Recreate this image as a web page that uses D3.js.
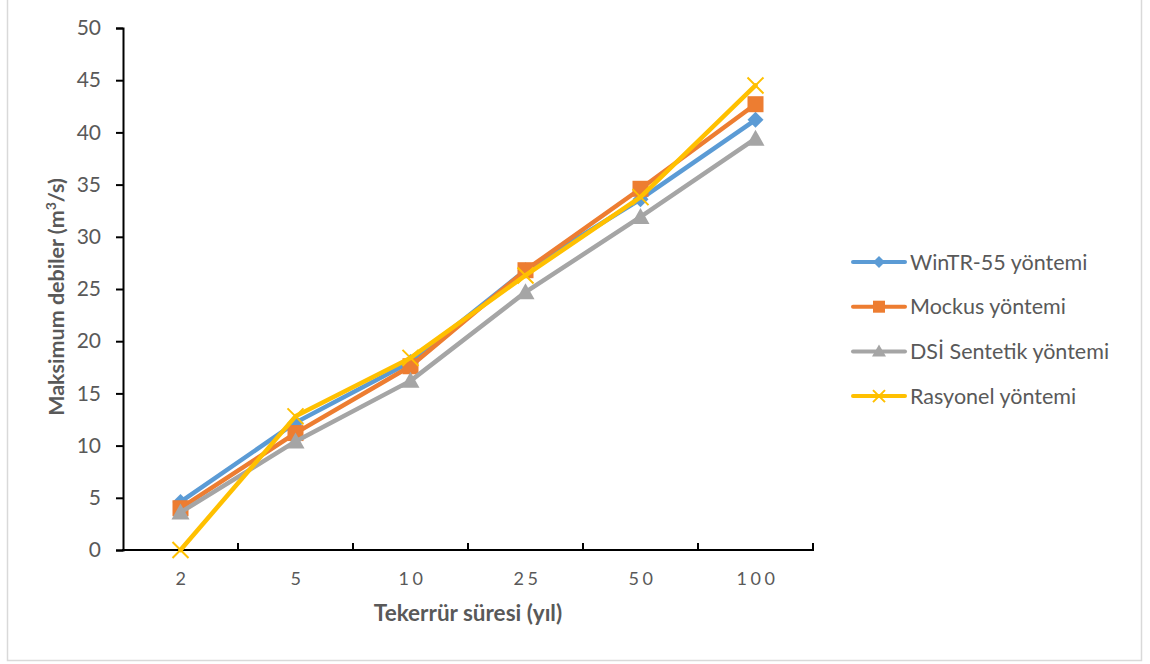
<!DOCTYPE html>
<html>
<head>
<meta charset="utf-8">
<script src="https://cdn.jsdelivr.net/npm/d3@7"></script>
<style>
  body { margin: 0; background: #fff; }
  svg text { font-family: Lato, "Open Sans", sans-serif; fill: #595959; }
</style>
</head>
<body>
<div id="chart"></div>
<script>
// Return periods (years)
const periods = ["2", "5", "10", "25", "50", "100"];

// Peak discharge values (m3/s) per method
const winTR55 = [4.6, 12.2, 18.0, 26.8, 33.6, 41.2];
const mockus = [4.0, 11.2, 17.6, 26.8, 34.6, 42.7];
const dsiSentetik = [3.6, 10.4, 16.2, 24.7, 31.9, 39.4];
const rasyonel = [0.0, 12.8, 18.4, 26.3, 33.8, 44.5];

const yTicks = [0, 5, 10, 15, 20, 25, 30, 35, 40, 45, 50];

const seriesNames = ["WinTR-55 yöntemi", "Mockus yöntemi", "DSİ Sentetik yöntemi", "Rasyonel yöntemi"];
const seriesValues = [winTR55, mockus, dsiSentetik, rasyonel];
const seriesColors = ["#5B9BD5", "#ED7D31", "#A5A5A5", "#FFC000"];
const seriesMarkers = ["diamond", "square", "triangle", "cross"];

// Dimensions
const width = 1150, height = 664;
const plot = { left: 123, right: 813, top: 28, bottom: 550 };

const svg = d3.select("#chart").append("svg")
    .attr("width", width)
    .attr("height", height);

// Chart frame
svg.append("rect")
    .attr("x", 7.5).attr("y", -1)
    .attr("width", 1134).attr("height", 661.5)
    .attr("fill", "#fff")
    .attr("stroke", "#d9d9d9")
    .attr("stroke-width", 1.5);

// Scales
const x = d3.scaleBand().domain(periods).range([plot.left, plot.right]);
const y = d3.scaleLinear().domain([0, 50]).range([plot.bottom, plot.top]);

// Y axis
const yAxis = svg.append("g")
    .attr("transform", `translate(${plot.left},0)`)
    .call(d3.axisLeft(y).tickValues(yTicks).tickSize(7).tickPadding(15));
yAxis.select(".domain").attr("stroke", "#000").attr("stroke-width", 2);
yAxis.selectAll(".tick line").attr("stroke", "#000").attr("stroke-width", 2);
yAxis.selectAll(".tick text")
    .attr("font-size", 21)
    .attr("fill", "#595959")
    .style("font-family", "Lato, 'Open Sans', sans-serif");

// X axis (ticks at category boundaries pointing up)
const xg = svg.append("g");
xg.append("line")
    .attr("x1", plot.left - 1).attr("x2", plot.right + 1)
    .attr("y1", plot.bottom).attr("y2", plot.bottom)
    .attr("stroke", "#000").attr("stroke-width", 2);
const boundaries = periods.map(p => x(p)).concat([x(periods[periods.length - 1]) + x.bandwidth()]);
xg.selectAll("line.xtick")
    .data(boundaries.slice(1))
    .enter().append("line")
    .attr("class", "xtick")
    .attr("x1", d => d).attr("x2", d => d)
    .attr("y1", plot.bottom).attr("y2", plot.bottom - 7)
    .attr("stroke", "#000").attr("stroke-width", 2);
xg.selectAll("text")
    .data(periods)
    .enter().append("text")
    .attr("x", d => x(d) + x.bandwidth() / 2 + 2)
    .attr("y", plot.bottom + 35)
    .attr("text-anchor", "middle")
    .attr("font-size", 18)
    .attr("letter-spacing", "3.5px")
    .text(d => d);

// Axis titles
svg.append("text")
    .attr("x", 468)
    .attr("y", 621)
    .attr("text-anchor", "middle")
    .attr("font-size", 22.5)
    .attr("font-weight", "bold")
    .text("Tekerrür süresi (yıl)");

const yTitle = svg.append("text")
    .attr("transform", "translate(64,297) rotate(-90)")
    .attr("text-anchor", "middle")
    .attr("font-size", 21.5)
    .attr("font-weight", "bold");
yTitle.append("tspan").text("Maksimum debiler (m");
yTitle.append("tspan").attr("font-size", 14).attr("dy", -8).text("3");
yTitle.append("tspan").attr("dy", 8).text("/s)");

// Marker drawing helper
function drawMarker(g, type, color, cx, cy, r = 8) {
    if (type === "diamond") {
        g.append("path")
            .attr("d", `M${cx},${cy - r}L${cx + r},${cy}L${cx},${cy + r}L${cx - r},${cy}Z`)
            .attr("fill", color);
    } else if (type === "square") {
        g.append("rect")
            .attr("x", cx - r).attr("y", cy - r)
            .attr("width", 2 * r).attr("height", 2 * r)
            .attr("fill", color);
    } else if (type === "triangle") {
        g.append("path")
            .attr("d", `M${cx},${cy - r - 1}L${cx + r + 1},${cy + r - 1}L${cx - r - 1},${cy + r - 1}Z`)
            .attr("fill", color);
    } else {
        g.append("path")
            .attr("d", `M${cx - r},${cy - r}L${cx + r},${cy + r}M${cx + r},${cy - r}L${cx - r},${cy + r}`)
            .attr("stroke", color)
            .attr("stroke-width", 2)
            .attr("fill", "none");
    }
}

// Lines and markers
const line = d3.line()
    .x((d, i) => x(periods[i]) + x.bandwidth() / 2)
    .y(d => y(d));

seriesValues.forEach((values, s) => {
    const g = svg.append("g");
    g.append("path")
        .datum(values)
        .attr("d", line)
        .attr("fill", "none")
        .attr("stroke", seriesColors[s])
        .attr("stroke-width", 4.5)
        .attr("stroke-linejoin", "round")
        .attr("stroke-linecap", "round");
    values.forEach((v, i) => {
        drawMarker(g, seriesMarkers[s], seriesColors[s], x(periods[i]) + x.bandwidth() / 2, y(v));
    });
});

// Legend
const legend = svg.append("g");
seriesNames.forEach((name, s) => {
    const ly = 262 + s * 44.7;
    legend.append("line")
        .attr("x1", 853).attr("x2", 905)
        .attr("y1", ly).attr("y2", ly)
        .attr("stroke", seriesColors[s])
        .attr("stroke-width", 4)
        .attr("stroke-linecap", "round");
    drawMarker(legend, seriesMarkers[s], seriesColors[s], 879, ly, 6);
    legend.append("text")
        .attr("x", 910)
        .attr("y", ly)
        .attr("dy", "0.35em")
        .attr("font-size", 21.5)
        .text(name);
});
</script>
</body>
</html>
